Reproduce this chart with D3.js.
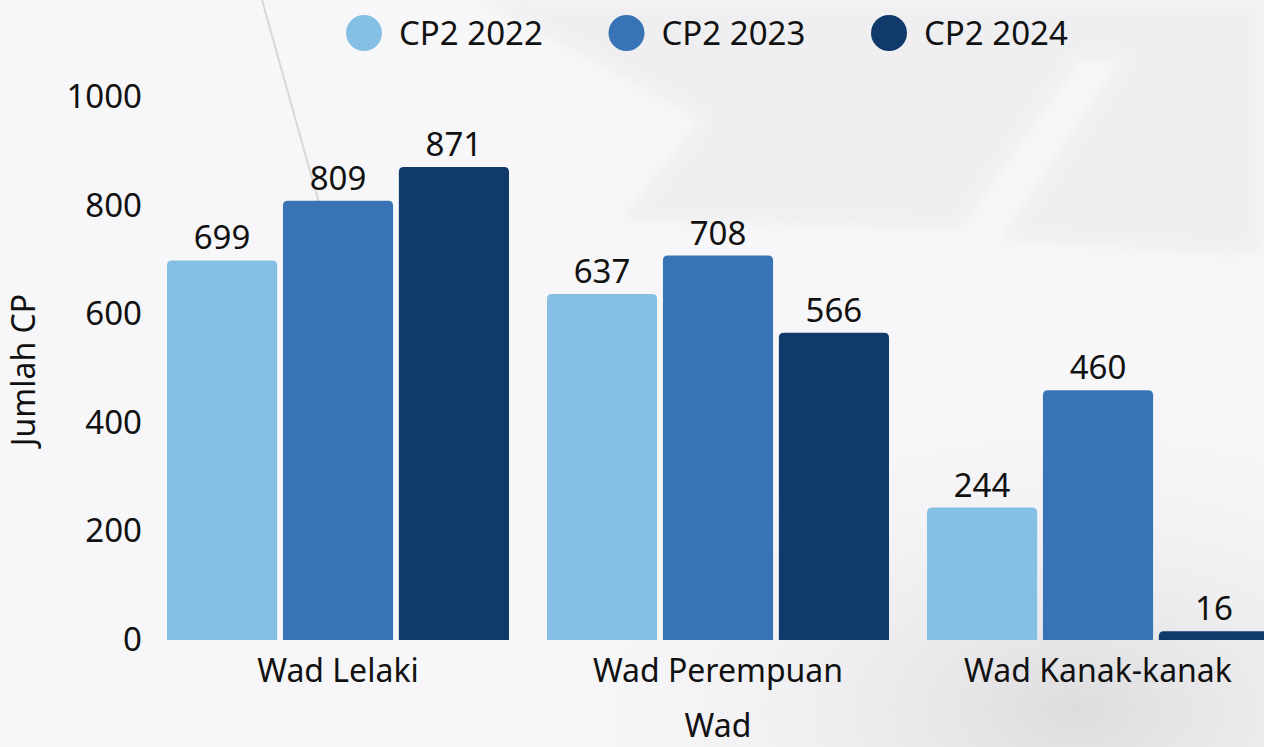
<!DOCTYPE html>
<html>
<head>
<meta charset="utf-8">
<script src="https://cdn.jsdelivr.net/npm/d3@7"></script>
<style>
  html, body { margin: 0; padding: 0; background: #f6f6f8; }
  svg { display: block; font-family: "Noto Sans", "Open Sans", sans-serif; }
</style>
</head>
<body>
<div id="chart"></div>
<script>
// data
const wards = ["Wad Lelaki", "Wad Perempuan", "Wad Kanak-kanak"];
const seriesNames = ["CP2 2022", "CP2 2023", "CP2 2024"];
const cp2022 = [699, 637, 244];
const cp2023 = [809, 708, 460];
const cp2024 = [871, 566, 16];
const yTicks = [0, 200, 400, 600, 800, 1000];
const colours = ["#85bfe4", "#3874b5", "#103a69"];

const width = 1264, height = 747;
const values = [cp2022, cp2023, cp2024];

// susun jadual untuk d3
const table = wards.map((w, i) => ({
    ward: w,
    bars: seriesNames.map((s, j) => ({ series: s, value: values[j][i], colour: colours[j] }))
}));

const svg = d3.select('#chart')
    .append('svg')
    .attr('width', width)
    .attr('height', height);

// latar belakang pudar (gambar kertas)
const defs = svg.append('defs');
const rg = defs.append('radialGradient').attr('id', 'bgShade')
    .attr('cx', 0.85).attr('cy', 0.95).attr('r', 0.45);
rg.append('stop').attr('offset', '0%').attr('stop-color', '#d6d6d8').attr('stop-opacity', 0.8);
rg.append('stop').attr('offset', '100%').attr('stop-color', '#f6f6f8').attr('stop-opacity', 0);
defs.append('filter').attr('id', 'soft')
    .append('feGaussianBlur').attr('stdDeviation', 6);

svg.append('rect').attr('width', width).attr('height', height).attr('fill', '#f7f7f9');
svg.append('path')
    .attr('d', 'M480,0 L1264,0 L1264,250 L1230,255 L1000,240 L1120,60 L1080,60 L960,230 L620,220 L700,120 Z')
    .attr('fill', '#ededef').attr('opacity', 0.7)
    .attr('filter', 'url(#soft)');
svg.append('rect').attr('width', width).attr('height', height).attr('fill', 'url(#bgShade)');
svg.append('line')
    .attr('x1', 262).attr('y1', 0).attr('x2', 335).attr('y2', 260)
    .attr('stroke', '#c4c4c7').attr('stroke-width', 2).attr('opacity', 0.6);

// skala
const x0 = d3.scaleBand()
    .domain(wards)
    .range([148, 1288])
    .paddingInner(0.1)
    .paddingOuter(0.05);

const x1 = d3.scaleBand()
    .domain(seriesNames)
    .range([0, x0.bandwidth()])
    .paddingInner(0.05);

const y = d3.scaleLinear()
    .domain([0, 1000])
    .range([640, 97]);

// paksi y (tanpa garis)
const yAxis = svg.append('g')
    .attr('transform', 'translate(142,0)')
    .call(d3.axisLeft(y).tickValues(yTicks).tickFormat(d3.format('d')).tickSize(0).tickPadding(0));
yAxis.select('.domain').remove();
yAxis.selectAll('text')
    .attr('font-size', 33)
    .attr('font-family', '"Noto Sans", sans-serif')
    .attr('fill', '#111');

// paksi x
const xAxis = svg.append('g')
    .attr('transform', 'translate(0,640)')
    .call(d3.axisBottom(x0).tickSize(0).tickPadding(0));
xAxis.select('.domain').remove();
xAxis.selectAll('text')
    .attr('font-size', 32)
    .attr('font-family', '"Noto Sans", sans-serif')
    .attr('fill', '#111')
    .attr('dy', null)
    .attr('y', 42);

// bar dengan bucu atas bulat
function topRounded(xp, yp, w, h, r) {
    r = Math.min(r, h, w / 2);
    return `M${xp},${yp + h} L${xp},${yp + r} Q${xp},${yp} ${xp + r},${yp} ` +
        `L${xp + w - r},${yp} Q${xp + w},${yp} ${xp + w},${yp + r} L${xp + w},${yp + h} Z`;
}

const group = svg.append('g')
    .selectAll('g')
    .data(table)
    .join('g')
    .attr('transform', d => `translate(${x0(d.ward)},0)`);

group.selectAll('path')
    .data(d => d.bars)
    .join('path')
    .attr('fill', d => d.colour)
    .attr('d', d => topRounded(x1(d.series), y(d.value), x1.bandwidth(), y(0) - y(d.value), 5));

group.selectAll('text')
    .data(d => d.bars)
    .join('text')
    .attr('x', d => x1(d.series) + x1.bandwidth() / 2)
    .attr('y', d => y(d.value) - 11)
    .attr('text-anchor', 'middle')
    .attr('font-size', 33)
    .attr('fill', '#111')
    .text(d => d.value);

// tajuk paksi
svg.append('text')
    .attr('x', 718)
    .attr('y', 737)
    .attr('text-anchor', 'middle')
    .attr('font-size', 32)
    .attr('fill', '#111')
    .text('Wad');

svg.append('text')
    .attr('transform', 'translate(35,370) rotate(-90)')
    .attr('text-anchor', 'middle')
    .attr('font-size', 32)
    .attr('fill', '#111')
    .text('Jumlah CP');

// petunjuk
const legend = svg.append('g')
    .selectAll('g')
    .data(seriesNames)
    .join('g')
    .attr('transform', (d, i) => `translate(${364 + i * 262.5},33)`);

legend.append('circle')
    .attr('r', 18)
    .attr('fill', (d, i) => colours[i]);

legend.append('text')
    .attr('x', 35)
    .attr('y', 12)
    .attr('font-size', 33)
    .attr('fill', '#111')
    .text(d => d);
</script>
</body>
</html>
